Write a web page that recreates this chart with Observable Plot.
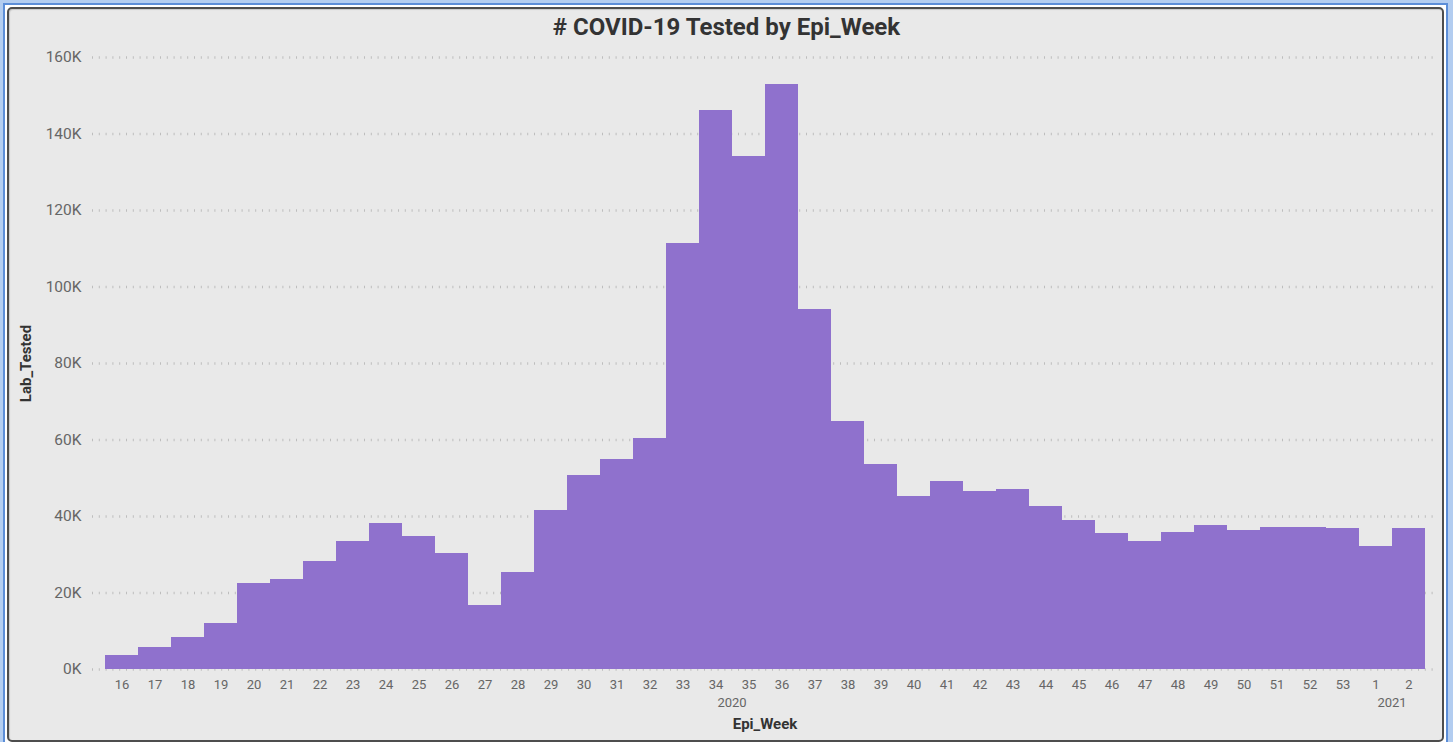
<!DOCTYPE html>
<html>
<head>
<meta charset="utf-8">
<script src="https://cdn.jsdelivr.net/npm/d3@7"></script>
<script src="https://cdn.jsdelivr.net/npm/@observablehq/plot@0.6"></script>
<style>
  html, body { margin: 0; padding: 0; }
  body { width: 1453px; height: 742px; overflow: hidden; background: #b3cdf0; position: relative; font-family: Roboto, "Noto Sans", sans-serif; }
  #frame { position: absolute; left: 3px; top: 3px; width: 1445px; height: 745px; box-sizing: border-box; border: 2px solid #5c8ed8; background: #ffffff; }
  #panel { position: absolute; left: 7px; top: 7px; width: 1437px; height: 735px; box-sizing: border-box; border: 2px solid #4d4d4d; border-radius: 5px; background: #e9e9e9; box-shadow: inset 1px 1px 1px rgba(0,0,0,0.15); }
  #title { position: absolute; left: 0; top: 13px; width: 1453px; text-align: center; font: bold 24px Roboto, sans-serif; line-height: 28px; color: #333333; z-index: 3; }
  #chart { position: absolute; left: 0; top: 0; z-index: 2; }
</style>
</head>
<body>
<div id="frame"></div>
<div id="panel"></div>
<div id="title"># COVID-19 Tested by Epi_Week</div>
<div id="chart"></div>
<script>
// ---- data ----
const weeks = ["16","17","18","19","20","21","22","23","24","25","26","27","28","29","30","31","32","33","34","35","36","37","38","39","40","41","42","43","44","45","46","47","48","49","50","51","52","53","1","2"];
const labTested = [3700, 5800, 8400, 12100, 22400, 23600, 28300, 33400, 38100, 34700, 30400, 16800, 25400, 41500, 50800, 55000, 60500, 111500, 146200, 134000, 153000, 94200, 64800, 53500, 45300, 49200, 46600, 47000, 42700, 39000, 35500, 33400, 35900, 37700, 36400, 37200, 37100, 36800, 32100, 36800];
const yearLabels = ["2020", "2021"];
const yearFirstWeek = ["16", "1"];
const yearLastWeek = ["53", "2"];
const yTicks = [0, 20000, 40000, 60000, 80000, 100000, 120000, 140000, 160000];

const data = weeks.map((w, i) => ({week: w, tested: labTested[i]}));

const yearMark = (index, scales, values, dims) => {
  const x = scales.x;
  const bw = x.bandwidth ? x.bandwidth() : (x(weeks[1]) - x(weeks[0]));
  const g = d3.create("svg:g")
    .attr("font-size", 13)
    .attr("fill", "#666666")
    .attr("text-anchor", "middle");
  yearLabels.forEach((lab, i) => {
    const cx = (x(yearFirstWeek[i]) + x(yearLastWeek[i]) + bw) / 2;
    g.append("text")
      .attr("x", cx)
      .attr("y", dims.height - dims.marginBottom + 33)
      .attr("dy", "0.35em")
      .text(lab);
  });
  return g.node();
};

const chart = Plot.plot({
  width: 1453,
  height: 742,
  marginTop: 57,
  marginBottom: 73,
  marginLeft: 92,
  marginRight: 16,
  style: {background: "transparent", fontFamily: "Roboto, sans-serif"},
  x: {domain: weeks, paddingInner: 0, paddingOuter: 0.36, axis: null},
  y: {domain: [0, 160000], axis: null},
  marks: [
    Plot.gridY(yTicks, {stroke: "#bdbdbd", strokeOpacity: 1, strokeWidth: 2.4, strokeDasharray: "1,5.8"}),
    Plot.barY(data, {x: "week", y: "tested", fill: "#8f71cd", shapeRendering: "crispEdges"}),
    Plot.axisY(yTicks, {tickSize: 0, tickPadding: 11, tickFormat: d => (d / 1000) + "K", fontSize: 15.5, fill: "#666666", label: null}),
    Plot.axisX({tickSize: 0, tickPadding: 10, fontSize: 13, fill: "#666666", label: null}),
    yearMark,
    Plot.text(["Epi_Week"], {frameAnchor: "bottom", dy: 59, textAnchor: "middle", text: d => d, fontSize: 15, fontWeight: "bold", fill: "#333333"}),
    Plot.text(["Lab_Tested"], {frameAnchor: "left", dx: -66, rotate: -90, textAnchor: "middle", text: d => d, fontSize: 15, fontWeight: "bold", fill: "#333333"})
  ]
});
document.getElementById("chart").appendChild(chart);
</script>
</body>
</html>
